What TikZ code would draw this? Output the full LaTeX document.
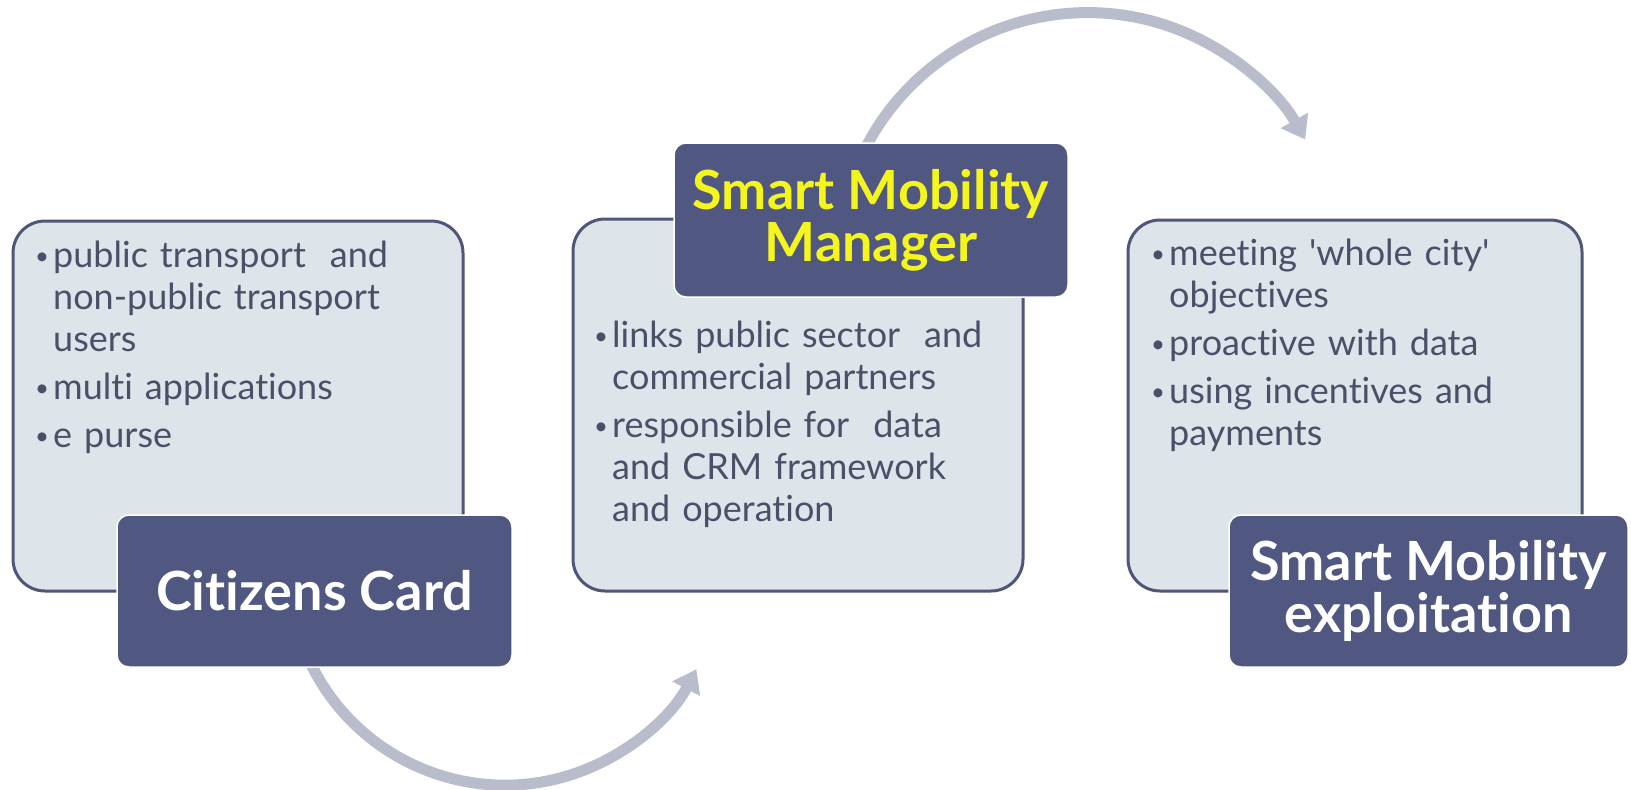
\documentclass[tikz,border=0pt]{standalone}
\usepackage{fontspec}
\setmainfont{Lato}[Ligatures={ResetAll,NoCommon}]
\usetikzlibrary{arrows.meta}
\definecolor{lightfill}{RGB}{222,229,234}
\definecolor{lightborder}{RGB}{80,86,120}
\definecolor{darkfill}{RGB}{80,87,128}
\definecolor{bodytext}{RGB}{75,80,105}
\definecolor{arrowgray}{RGB}{185,188,202}
\definecolor{titleyellow}{RGB}{245,245,30}
\pgfdeclarelayer{bg}
\pgfsetlayers{bg,main}
\newcommand{\nl}{\unskip\nobreak\hfil\break}
\newcommand{\sq}{\XeTeXglyph\XeTeXcharglyph"0027\relax}
\newcommand{\bitem}[1]{\hangindent=18pt\hangafter=1\makebox[18pt][l]{\raisebox{3pt}{\fontsize{24}{24}\selectfont\textbullet}}#1\par}
\begin{document}
\begin{tikzpicture}[x=1pt,y=1pt,
  lightbox/.style={draw=lightborder, line width=3pt, fill=lightfill, rounded corners=32pt, inner sep=0pt},
  darkbox/.style={draw=white, line width=1.5pt, fill=darkfill, rounded corners=12pt, inner sep=0pt, align=center, font=\bfseries\fontsize{54}{52}\selectfont},
  bodytxt/.style={text=bodytext, text width=440pt, align=left, inner sep=0pt, anchor=base west, font=\fontsize{36}{42}\selectfont},
  flow/.style={draw=arrowgray, line width=11pt, -{Triangle[width=30pt,length=22pt]}}
]
\useasboundingbox (0,0) rectangle (1631,-790);
% light boxes
\node[lightbox, minimum width=450pt, minimum height=370pt] (lb1) at (238,-406) {};
\node[lightbox, minimum width=450pt, minimum height=372pt] (lb2) at (798,-405) {};
\node[lightbox, minimum width=454pt, minimum height=371pt] (lb3) at (1355,-405.5) {};
% body texts
\node[bodytxt] (t1) at (35,-267) {\setlength{\parskip}{6pt}%
\bitem{public transport \ and\nl non-public transport\nl users}%
\bitem{multi applications}%
\bitem{e purse}};
\node[bodytxt] (t2) at (594,-347) {\setlength{\parskip}{6pt}%
\bitem{links public sector \ and\nl commercial partners}%
\bitem{responsible for \ data\nl and CRM framework\nl and operation}};
\node[bodytxt] (t3) at (1151,-265) {\setlength{\parskip}{6pt}%
\bitem{meeting \sq whole city\sq\nl objectives}%
\bitem{proactive with data}%
\bitem{using incentives and\nl payments}};
% dark boxes
\node[darkbox, text=white, minimum width=395pt, minimum height=152pt] (cc) at (314.5,-591) {Citizens Card};
\node[darkbox, text=titleyellow, minimum width=394pt, minimum height=154pt] (smm) at (871,-220) {Smart Mobility\\Manager};
\node[darkbox, text=white, minimum width=399pt, minimum height=152pt] (sme) at (1428.5,-591) {Smart Mobility\\exploitation};
% arrows
\coordinate (a1s) at (302,-643);
\coordinate (a2s) at (861,-157);
\begin{pgfonlayer}{bg}
\draw[flow] (a1s) arc[start angle=200, end angle=332.4, radius=216];
\draw[flow] (a2s) arc[start angle=155, end angle=29.5, radius=250];
\end{pgfonlayer}
\end{tikzpicture}
\end{document}
